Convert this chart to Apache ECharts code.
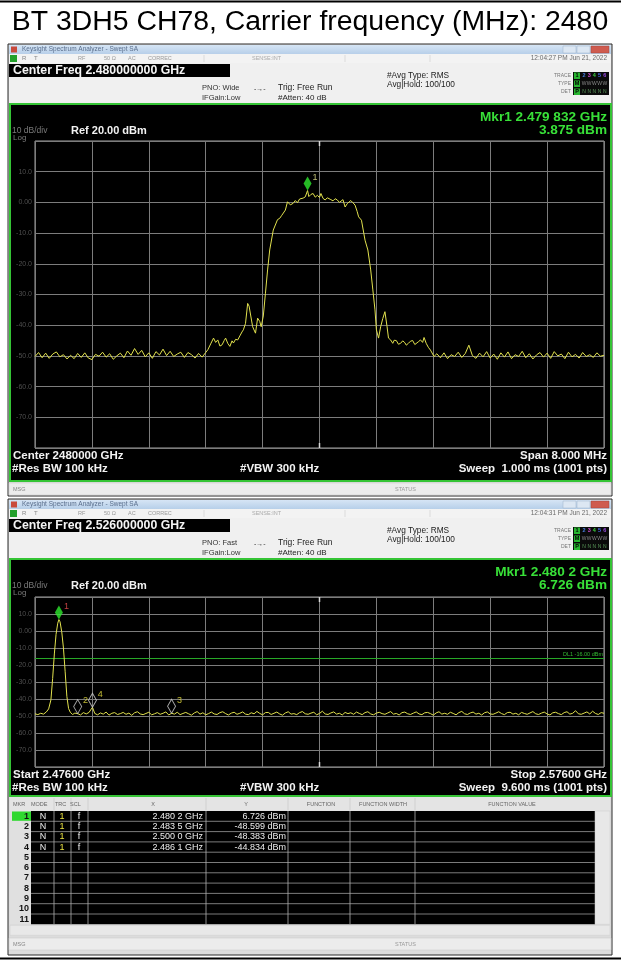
<!DOCTYPE html>
<html><head><meta charset="utf-8">
<script src="https://cdn.jsdelivr.net/npm/echarts@6/dist/echarts.min.js"></script>
<style>html,body{margin:0;padding:0;background:#fff}#c{width:621px;height:960px}</style>
</head><body><div id="c"></div>
<script>
const titleText = 'BT 3DH5 CH78, Carrier frequency (MHz): 2480';
const yTicks = [20, 10, 0, -10, -20, -30, -40, -50, -60, -70, -80];
const yTickLabels = ['', '10.0', '0.00', '-10.0', '-20.0', '-30.0', '-40.0', '-50.0', '-60.0', '-70.0', ''];
const plot1Range = [2476, 2484];
const plot2Range = [2476, 2576];
const trace1 = [
[2476.00,-50.2],[2476.05,-48.9],[2476.10,-50.6],[2476.15,-49.1],[2476.20,-50.8],[2476.25,-49.4],[2476.30,-48.7],[2476.35,-50.3],[2476.40,-49.6],[2476.45,-51.0],
[2476.50,-49.8],[2476.55,-50.9],[2476.60,-49.2],[2476.65,-50.5],[2476.70,-49.0],[2476.75,-50.7],[2476.80,-51.2],[2476.85,-49.5],[2476.90,-50.1],[2476.95,-48.8],
[2477.00,-50.4],[2477.05,-49.3],[2477.10,-51.1],[2477.15,-50.0],[2477.20,-49.1],[2477.25,-50.6],[2477.30,-48.4],[2477.35,-49.8],[2477.40,-47.6],[2477.45,-49.5],
[2477.50,-48.2],[2477.55,-50.3],[2477.60,-49.0],[2477.65,-50.8],[2477.70,-48.6],[2477.75,-49.7],[2477.80,-47.8],[2477.85,-49.9],[2477.90,-48.5],[2477.95,-50.2],
[2478.00,-49.4],[2478.05,-48.8],[2478.10,-50.5],[2478.15,-48.9],[2478.20,-49.6],[2478.25,-50.7],[2478.30,-49.2],[2478.35,-50.4],[2478.40,-48.9],
[2478.43,-48.0],[2478.47,-46.1],[2478.51,-44.2],[2478.54,-45.6],[2478.57,-44.8],[2478.60,-46.8],[2478.63,-46.4],[2478.66,-45.0],[2478.68,-44.2],[2478.71,-45.9],
[2478.74,-46.9],[2478.77,-45.1],[2478.79,-45.8],[2478.82,-44.6],[2478.85,-44.8],[2478.88,-43.5],[2478.91,-42.2],[2478.93,-41.5],[2478.96,-39.4],[2478.99,-32.9],
[2479.01,-33.8],[2479.03,-33.4],[2479.06,-40.5],[2479.10,-42.6],[2479.13,-37.7],[2479.16,-38.8],[2479.18,-40.5],[2479.21,-37.0],[2479.24,-29.6],[2479.27,-22.0],
[2479.30,-15.5],[2479.35,-9.0],[2479.41,-5.6],[2479.44,-5.2],[2479.47,-4.2],[2479.52,-2.5],[2479.55,0.2],[2479.59,-0.8],[2479.63,-0.3],[2479.66,0.6],
[2479.69,-0.1],[2479.72,1.1],[2479.74,0.5],[2479.77,1.4],[2479.80,1.8],[2479.832,3.875],[2479.85,1.9],[2479.88,2.6],[2479.91,2.9],[2479.94,1.7],
[2479.97,2.3],[2480.00,1.6],[2480.02,2.9],[2480.05,1.3],[2480.08,0.8],[2480.11,1.5],[2480.13,1.8],[2480.16,0.9],[2480.19,0.5],[2480.22,1.2],
[2480.25,0.8],[2480.28,0.0],[2480.30,0.2],[2480.33,0.9],[2480.36,-1.5],[2480.39,-0.4],[2480.41,0.2],[2480.44,0.6],[2480.47,-0.1],[2480.50,-0.9],
[2480.53,-3.0],[2480.55,-4.7],[2480.59,-5.8],[2480.64,-12.3],[2480.68,-15.5],[2480.72,-22.0],[2480.75,-28.5],[2480.78,-35.0],[2480.80,-41.5],[2480.83,-44.2],
[2480.86,-40.5],[2480.89,-37.8],[2480.92,-35.6],[2480.95,-40.5],[2480.97,-44.2],[2481.00,-44.8],[2481.03,-45.9],[2481.05,-44.9],[2481.08,-45.0],[2481.11,-46.2],
[2481.14,-45.9],[2481.17,-45.1],[2481.20,-45.7],[2481.22,-46.5],[2481.25,-45.9],[2481.28,-45.2],[2481.31,-45.0],[2481.34,-46.3],[2481.36,-45.9],[2481.39,-45.4],
[2481.42,-44.8],[2481.45,-45.6],[2481.47,-44.0],[2481.50,-45.9],[2481.53,-47.2],[2481.56,-48.1],[2481.61,-50.2],
[2481.65,-49.3],[2481.70,-50.6],[2481.75,-49.0],[2481.80,-50.9],[2481.85,-49.6],[2481.90,-50.2],[2481.95,-48.8],[2482.00,-50.5],[2482.05,-49.2],[2482.10,-46.5],
[2482.15,-49.9],[2482.20,-50.8],[2482.25,-49.1],[2482.30,-50.3],[2482.35,-48.6],[2482.40,-50.7],[2482.45,-49.4],[2482.50,-51.1],[2482.55,-49.0],[2482.60,-50.4],
[2482.65,-48.7],[2482.70,-50.9],[2482.75,-49.6],[2482.80,-50.2],[2482.85,-48.5],[2482.90,-50.6],[2482.95,-49.3],[2483.00,-51.0],[2483.05,-49.7],[2483.10,-48.9],
[2483.15,-50.4],[2483.20,-49.1],[2483.25,-50.8],[2483.30,-48.6],[2483.35,-50.0],[2483.40,-49.4],[2483.45,-50.9],[2483.50,-48.8],[2483.55,-50.3],[2483.60,-49.5],
[2483.65,-50.7],[2483.70,-48.9],[2483.75,-50.2],[2483.80,-49.6],[2483.85,-50.5],[2483.90,-49.0],[2483.95,-50.1],[2484.00,-49.8]
];
const trace2 = [
[2476.0,-48.7],[2476.5,-49.2],[2477.0,-48.4],[2477.5,-48.9],[2478.0,-47.6],[2478.4,-45.8],[2478.8,-40.5],[2479.1,-28.0],[2479.4,-13.5],[2479.7,-2.0],
[2480.0,4.6],[2480.2,6.726],[2480.4,5.4],[2480.7,-0.5],[2481.0,-10.0],[2481.3,-24.0],[2481.6,-38.5],[2481.9,-45.6],[2482.2,-47.8],[2482.6,-49.1],
[2483.0,-48.3],[2483.5,-48.599],[2484.0,-49.4],[2484.5,-48.0],[2485.0,-48.8],[2485.5,-47.9],[2486.1,-44.834],[2486.5,-48.5],[2487.0,-49.3],
[2487.5,-48.2],[2488.0,-48.9],[2488.5,-47.7],[2489.0,-49.5],[2489.5,-48.4],[2490.0,-48.0],[2490.5,-49.1],[2491.0,-48.6],[2491.5,-47.9],[2492.0,-49.0],
[2492.5,-48.3],[2493.0,-49.6],[2493.5,-48.1],[2494.0,-47.5],[2494.5,-48.8],[2495.0,-49.2],[2495.5,-48.5],[2496.0,-47.8],[2496.5,-49.3],[2497.0,-48.7],
[2497.5,-48.0],[2498.0,-49.0],[2498.5,-48.4],[2499.0,-47.6],[2499.5,-49.4],[2500.0,-48.383],[2500.5,-48.9],[2501.0,-47.8],[2501.5,-49.2],[2502.0,-48.5],
[2502.5,-47.9],[2503.0,-48.7],[2503.5,-49.5],[2504.0,-48.2],[2504.5,-47.4],[2505.0,-48.9],[2505.5,-48.1],[2506.0,-49.3],[2506.5,-48.6],[2507.0,-47.7],
[2507.5,-48.8],[2508.0,-49.1],[2508.5,-48.0],[2509.0,-47.5],[2509.5,-48.6],[2510.0,-49.4],[2510.5,-48.3],[2511.0,-47.8],[2511.5,-49.0],[2512.0,-48.4],
[2512.5,-47.6],[2513.0,-48.9],[2513.5,-49.2],[2514.0,-48.1],[2514.5,-48.7],[2515.0,-47.3],[2515.5,-48.5],[2516.0,-49.3],[2516.5,-48.0],[2517.0,-47.9],
[2517.5,-49.1],[2518.0,-48.4],[2518.5,-47.7],[2519.0,-48.8],[2519.5,-49.5],[2520.0,-48.2],[2520.5,-47.5],[2521.0,-48.9],[2521.5,-48.6],[2522.0,-49.2],
[2522.5,-48.0],[2523.0,-47.4],[2523.5,-48.7],[2524.0,-49.0],[2524.5,-48.3],[2525.0,-47.8],[2525.5,-49.3],[2526.0,-48.5],[2526.5,-47.2],[2527.0,-48.8],
[2527.5,-49.1],[2528.0,-48.2],[2528.5,-47.6],[2529.0,-48.9],[2529.5,-48.4],[2530.0,-49.4],[2530.5,-47.9],[2531.0,-48.6],[2531.5,-48.1],[2532.0,-49.0],
[2532.5,-47.7],[2533.0,-48.5],[2533.5,-49.2],[2534.0,-48.0],[2534.5,-47.5],[2535.0,-48.8],[2535.5,-49.3],[2536.0,-48.3],[2536.5,-47.8],[2537.0,-48.6],
[2537.5,-49.0],[2538.0,-48.2],[2538.5,-47.4],[2539.0,-48.9],[2539.5,-48.5],[2540.0,-49.4],[2540.5,-48.0],[2541.0,-47.7],[2541.5,-48.7],[2542.0,-49.1],
[2542.5,-48.3],[2543.0,-47.6],[2543.5,-48.8],[2544.0,-49.2],[2544.5,-48.1],[2545.0,-47.9],[2545.5,-48.6],[2546.0,-49.5],[2546.5,-48.2],[2547.0,-47.5],
[2547.5,-48.9],[2548.0,-48.4],[2548.5,-49.0],[2549.0,-47.8],[2549.5,-48.5],[2550.0,-49.3],[2550.5,-48.0],[2551.0,-47.3],[2551.5,-48.7],[2552.0,-49.1],
[2552.5,-48.2],[2553.0,-47.7],[2553.5,-48.9],[2554.0,-48.4],[2554.5,-49.4],[2555.0,-48.1],[2555.5,-47.6],[2556.0,-48.8],[2556.5,-49.0],[2557.0,-48.3],
[2557.5,-47.5],[2558.0,-48.6],[2558.5,-49.2],[2559.0,-48.0],[2559.5,-47.8],[2560.0,-48.9],[2560.5,-48.4],[2561.0,-49.3],[2561.5,-47.9],[2562.0,-48.5],
[2562.5,-49.0],[2563.0,-48.2],[2563.5,-47.4],[2564.0,-48.7],[2564.5,-49.1],[2565.0,-48.3],[2565.5,-47.7],[2566.0,-48.8],[2566.5,-49.4],[2567.0,-48.1],
[2567.5,-47.8],[2568.0,-48.6],[2568.5,-49.2],[2569.0,-48.0],[2569.5,-47.5],[2570.0,-48.9],[2570.5,-48.4],[2571.0,-46.9],[2571.5,-48.7],[2572.0,-49.0],
[2572.5,-48.3],[2573.0,-47.6],[2573.5,-48.8],[2574.0,-47.2],[2574.5,-48.5],[2575.0,-49.1],[2575.5,-48.0],[2576.0,-48.4]
];
const plot1Markers = [[2479.832, 3.875]];
const plot2Markers = [[2480.2, 6.726], [2483.5, -48.599], [2500.0, -48.383], [2486.1, -44.834]];
const markerNames = ['1', '2', '3', '4'];
const displayLineLevel = -16.0;
const displayLineText = 'DL1 -16.00 dBm';
const tblMode = ['N', 'N', 'N', 'N'];
const tblTrc = ['1', '1', '1', '1'];
const tblScl = ['f', 'f', 'f', 'f'];
const tblX = ['2.480 2 GHz', '2.483 5 GHz', '2.500 0 GHz', '2.486 1 GHz'];
const tblY = ['6.726 dBm', '-48.599 dBm', '-48.383 dBm', '-44.834 dBm'];

const F = '"Liberation Sans", Arial, Helvetica, sans-serif';
function txt(x, y, s, size, color, weight, align, z) {
  return {type: 'text', x: x, y: y, z: z == null ? 100 : z, silent: true,
    style: {text: s, fill: color, font: (weight || 'normal') + ' ' + size + 'px ' + F,
      align: align || 'left', verticalAlign: 'middle', textAlign: align || 'left', textVerticalAlign: 'middle'}};
}
function rect(x, y, w, h, fill, stroke, lw, z) {
  return {type: 'rect', z: z == null ? -5 : z, silent: true, shape: {x: x, y: y, width: w, height: h},
    style: {fill: fill || 'none', stroke: stroke || 'none', lineWidth: lw || 0}};
}
function ln(x1, y1, x2, y2, color, lw, z) {
  return {type: 'line', z: z == null ? 50 : z, silent: true, shape: {x1: x1, y1: y1, x2: x2, y2: y2},
    style: {stroke: color, lineWidth: lw || 1}};
}
const G = [];
G.push(ln(0, 1.5, 621, 1.5, '#000', 2));
G.push(ln(0, 958.5, 621, 958.5, '#000', 2));
G.push(txt(310, 22, titleText, 28.4, '#000', 'normal', 'center'));

function screenshot(y0, c) {
  G.push(rect(8, y0, 604, c.frameH, '#dcdcdc', '#2a2a2a', 1, -9));
  G.push(rect(9, y0 + 1, 602, 9, {type: 'linear', x: 0, y: 0, x2: 0, y2: 1, colorStops: [{offset: 0, color: '#d6e5f5'}, {offset: 1, color: '#b7cfe9'}]}, null, 0, -8));
  G.push(rect(11, y0 + 2.5, 6, 6, '#c94a3c', null, 0, -7));
  G.push(txt(22, y0 + 5.5, 'Keysight Spectrum Analyzer - Swept SA', 6.5, '#5a6e8c'));
  G.push(rect(563, y0 + 2, 13, 7, '#dce7f3', '#9fb3cb', 0.5, -7));
  G.push(rect(577, y0 + 2, 13, 7, '#dce7f3', '#9fb3cb', 0.5, -7));
  G.push(rect(591, y0 + 2, 18, 7, '#cf5b4f', '#a0443a', 0.5, -7));
  G.push(rect(9, y0 + 10, 602, 9, '#f3f3f3', null, 0, -8));
  G.push(rect(10, y0 + 11, 7, 7, '#23a02b', null, 0, -7));
  G.push(txt(22, y0 + 14.5, 'R', 6, '#888'));
  G.push(txt(34, y0 + 14.5, 'T', 6, '#888'));
  G.push(txt(78, y0 + 14.5, 'RF', 5.5, '#999'));
  G.push(txt(104, y0 + 14.5, '50 \u03A9', 5.5, '#999'));
  G.push(txt(128, y0 + 14.5, 'AC', 5.5, '#999'));
  G.push(txt(148, y0 + 14.5, 'CORREC', 5.5, '#999'));
  G.push(txt(252, y0 + 14.5, 'SENSE:INT', 5.5, '#aaa'));
  G.push(ln(204, y0 + 11, 204, y0 + 18, '#ccc', 0.6));
  G.push(ln(345, y0 + 11, 345, y0 + 18, '#ccc', 0.6));
  G.push(ln(430, y0 + 11, 430, y0 + 18, '#ccc', 0.6));
  G.push(txt(607, y0 + 14.5, c.time, 6.5, '#6a6a6a', 'normal', 'right'));
  G.push(rect(9, y0 + 19, 602, 41, '#f0f0f0', null, 0, -8));
  G.push(rect(9, y0 + 20, 221, 13, '#000', null, 0, -7));
  G.push(txt(13, y0 + 26.5, c.centerFreq, 12.3, '#f4f4f4', 'bold'));
  G.push(txt(202, y0 + 44, c.pno, 7.5, '#333'));
  G.push(txt(202, y0 + 54, 'IFGain:Low', 7.5, '#333'));
  G.push(txt(254, y0 + 45, '-\u2192-', 7, '#333'));
  G.push(txt(278, y0 + 44, 'Trig: Free Run', 8.5, '#222'));
  G.push(txt(278, y0 + 54, '#Atten: 40 dB', 8, '#222'));
  G.push(txt(387, y0 + 32, '#Avg Type: RMS', 8.3, '#222'));
  G.push(txt(387, y0 + 40.5, 'Avg|Hold: 100/100', 8.3, '#222'));
  G.push(txt(571, y0 + 31.5, 'TRACE', 5, '#777', 'normal', 'right'));
  G.push(txt(571, y0 + 39.5, 'TYPE', 5, '#777', 'normal', 'right'));
  G.push(txt(571, y0 + 47.5, 'DET', 5, '#777', 'normal', 'right'));
  G.push(rect(573, y0 + 28, 36, 23, '#0a0a0a', null, 0, -7));
  G.push(rect(574, y0 + 28.5, 6, 6.5, '#27b52f', null, 0, -6));
  G.push(rect(574, y0 + 36.5, 6, 6.5, '#27b52f', null, 0, -6));
  G.push(rect(574, y0 + 44.5, 6, 6.5, '#27b52f', null, 0, -6));
  G.push(txt(577, y0 + 31.8, '1', 5.5, '#000', 'bold', 'center'));
  G.push(txt(577, y0 + 39.8, 'M', 5.5, '#000', 'bold', 'center'));
  G.push(txt(577, y0 + 47.8, 'P', 5.5, '#000', 'bold', 'center'));
  const tc = ['#4a7fe0', '#d04ad0', '#3ccc3c', '#4a6cf0', '#9a4ae0'];
  for (let i = 0; i < 5; i++) {
    G.push(txt(584 + i * 5.2, y0 + 31.8, String(i + 2), 5.5, tc[i], 'bold', 'center'));
    G.push(txt(584 + i * 5.2, y0 + 39.8, 'W', 5, '#8a8a8a', 'normal', 'center'));
    G.push(txt(584 + i * 5.2, y0 + 47.8, 'N', 5, '#5a9a5a', 'normal', 'center'));
  }
  G.push(rect(10, y0 + 60, 601, c.screenH, '#000', '#35c435', 2, -4));
  G.push(txt(607, y0 + 73, c.mkrF, 13.6, '#38e038', 'bold', 'right'));
  G.push(txt(607, y0 + 86, c.mkrV, 13.6, '#38e038', 'bold', 'right'));
  G.push(txt(12, y0 + 87, '10 dB/div', 8.5, '#7a7a7a'));
  G.push(txt(13, y0 + 94, 'Log', 8, '#7a7a7a'));
  G.push(txt(71, y0 + 87, 'Ref 20.00 dBm', 11, '#f2f2f2', 'bold'));
  G.push(txt(13, c.b1, c.bl1, 11.5, '#f2f2f2', 'bold'));
  G.push(txt(607, c.b1, c.br1, 11.5, '#f2f2f2', 'bold', 'right'));
  G.push(txt(12, c.b2, '#Res BW 100 kHz', 11.5, '#f2f2f2', 'bold'));
  G.push(txt(240, c.b2, '#VBW 300 kHz', 11.5, '#f2f2f2', 'bold'));
  G.push(txt(607, c.b2, c.sweep, 11.5, '#f2f2f2', 'bold', 'right'));
  G.push(rect(9, c.statusY, 602, 12, '#ececec', '#c8c8c8', 0.5, -8));
  G.push(txt(13, c.statusY + 6, 'MSG', 5.5, '#888'));
  G.push(txt(395, c.statusY + 6, 'STATUS', 5.5, '#999'));
}
screenshot(44, {frameH: 452, time: '12:04:27 PM Jun 21, 2022', centerFreq: 'Center Freq 2.480000000 GHz', pno: 'PNO: Wide',
  mkrF: 'Mkr1 2.479 832 GHz', mkrV: '3.875 dBm', screenH: 377, bl1: 'Center 2480000 GHz', br1: 'Span 8.000 MHz',
  b1: 456, b2: 469, sweep: 'Sweep  1.000 ms (1001 pts)', statusY: 483});
screenshot(499, {frameH: 456, time: '12:04:31 PM Jun 21, 2022', centerFreq: 'Center Freq 2.526000000 GHz', pno: 'PNO: Fast',
  mkrF: 'Mkr1 2.480 2 GHz', mkrV: '6.726 dBm', screenH: 237, bl1: 'Start 2.47600 GHz', br1: 'Stop 2.57600 GHz',
  b1: 775, b2: 788, sweep: 'Sweep  9.600 ms (1001 pts)', statusY: 938});

const tblTop = 811, rowH = 10.3, nRows = 11;
G.push(rect(10, 797, 600, 14, '#e4e4e4', null, 0, -7));
[['MKR', 13], ['MODE', 31], ['TRC', 55], ['SCL', 70]].forEach(function (h) { G.push(txt(h[1], 804, h[0], 5.5, '#666')); });
[['X', 153], ['Y', 246], ['FUNCTION', 321], ['FUNCTION WIDTH', 383], ['FUNCTION VALUE', 512]].forEach(function (h) { G.push(txt(h[1], 804, h[0], 5.5, '#666', 'normal', 'center')); });
[54, 71, 88, 206, 288, 350, 415].forEach(function (x) { G.push(ln(x, 798, x, 810, '#c4c4c4', 0.6)); });
G.push(rect(31, tblTop, 564, rowH * nRows, '#000', null, 0, -6));
G.push(rect(10, tblTop, 21, rowH * nRows, '#e0e0e0', null, 0, -6));
G.push(rect(595, tblTop, 15, rowH * nRows, '#e8e8e8', '#cfcfcf', 0.5, -6));
G.push(rect(10, tblTop + rowH * nRows + 1, 600, 10, '#e8e8e8', '#cfcfcf', 0.5, -6));
G.push(rect(12, tblTop + 0.5, 19, rowH - 1, '#2fd82f', null, 0, -5));
for (let i = 1; i < nRows; i++) G.push(ln(31, tblTop + i * rowH, 595, tblTop + i * rowH, '#9a9a9a', 0.8));
[54, 71, 88, 206, 288, 350, 415].forEach(function (x) { G.push(ln(x, tblTop, x, tblTop + rowH * nRows, '#b0b0b0', 0.8)); });
for (let i = 1; i <= nRows; i++) G.push(txt(29, tblTop + (i - 0.5) * rowH, String(i), 9, '#111', 'bold', 'right'));
for (let k = 0; k < tblX.length; k++) {
  const yy = tblTop + (k + 0.5) * rowH;
  G.push(txt(43, yy, tblMode[k], 9, '#eee', 'normal', 'center'));
  G.push(txt(62, yy, tblTrc[k], 9, '#e8e040', 'normal', 'center'));
  G.push(txt(79, yy, tblScl[k], 9, '#eee', 'normal', 'center'));
  G.push(txt(203, yy, tblX[k], 9, '#eee', 'normal', 'right'));
  G.push(txt(286, yy, tblY[k], 9, '#eee', 'normal', 'right'));
}

function yLabel(v) { const i = yTicks.indexOf(v); return i >= 0 ? yTickLabels[i] : ''; }
const gridLine = {show: true, lineStyle: {color: '#7c7c7c', width: 1}};
function divAxis(gi) {
  return {type: 'value', gridIndex: gi, min: 0, max: 10, interval: 1, position: 'top', axisLine: {show: false}, axisTick: {show: false}, axisLabel: {show: false}, splitLine: gridLine};
}
function freqAxis(gi, r) {
  return {type: 'value', gridIndex: gi, min: r[0], max: r[1], axisLine: {show: false}, axisTick: {show: false}, axisLabel: {show: false}, splitLine: {show: false}};
}
function levelAxis(gi) {
  return {type: 'value', gridIndex: gi, min: yTicks[yTicks.length - 1], max: yTicks[0], interval: 10,
    axisLine: {show: false}, axisTick: {show: false}, splitLine: gridLine,
    axisLabel: {show: true, formatter: yLabel, color: '#4e4e4e', fontSize: 7, margin: 3, fontFamily: F}};
}
const diamond = {symbol: 'diamond', symbolSize: [8, 14], symbolOffset: [0, '-50%']};
const centerTick = function (r) {
  const cx = (r[0] + r[1]) / 2;
  return {silent: true, symbol: 'rect', symbolSize: [1.5, 5], itemStyle: {color: '#d8d8d8'}, label: {show: false}, animation: false,
    data: [{coord: [cx, yTicks[0]], symbolOffset: [0, 2.5]}, {coord: [cx, yTicks[yTicks.length - 1]], symbolOffset: [0, -2.5]}]};
};
const option = {
  backgroundColor: '#ffffff',
  animation: false,
  graphic: {elements: G},
  grid: [
    {left: 35, top: 141, width: 569, height: 307, show: true, borderColor: '#a0a0a0', borderWidth: 1, backgroundColor: 'transparent'},
    {left: 35, top: 597, width: 569, height: 170, show: true, borderColor: '#a0a0a0', borderWidth: 1, backgroundColor: 'transparent'}
  ],
  xAxis: [freqAxis(0, plot1Range), divAxis(0), freqAxis(1, plot2Range), divAxis(1)],
  yAxis: [levelAxis(0), levelAxis(1)],
  series: [
    {type: 'line', xAxisIndex: 0, yAxisIndex: 0, data: trace1, showSymbol: false, symbol: 'none', clip: true,
      lineStyle: {color: '#e2e24e', width: 1}, z: 5, markPoint: centerTick(plot1Range)},
    {type: 'scatter', xAxisIndex: 0, yAxisIndex: 0, z: 8, ...diamond,
      data: plot1Markers.map(function (p, i) { return {value: p, itemStyle: {color: '#2ee82e'},
        label: {show: true, formatter: markerNames[i], position: 'right', distance: 1, offset: [0, -6], color: '#e8e890', fontSize: 9, fontFamily: F}}; })},
    {type: 'line', xAxisIndex: 2, yAxisIndex: 1, data: trace2, showSymbol: false, symbol: 'none', clip: true,
      lineStyle: {color: '#e2e24e', width: 1}, z: 5, markPoint: centerTick(plot2Range),
      markLine: {silent: true, symbol: 'none', animation: false,
        lineStyle: {color: '#27a827', width: 1, type: 'solid'},
        label: {show: true, formatter: displayLineText, position: 'insideEndTop', color: '#32b832', fontSize: 5.5, fontFamily: F, distance: 1},
        data: [{yAxis: displayLineLevel}]}},
    {type: 'scatter', xAxisIndex: 2, yAxisIndex: 1, z: 8, ...diamond,
      data: plot2Markers.map(function (p, i) {
        return {value: p,
          itemStyle: i === 0 ? {color: '#2ee82e'} : {color: 'rgba(0,0,0,0)', borderColor: '#d0d0d0', borderWidth: 1},
          label: {show: true, formatter: markerNames[i], position: 'right', distance: 1, offset: [0, -6],
            color: i === 0 ? '#f05050' : '#e8e040', fontSize: 9, fontFamily: F}};
      })}
  ]
};
const chart = echarts.init(document.getElementById('c'), null, {renderer: 'canvas', width: 621, height: 960});
chart.setOption(option);
</script></body></html>
